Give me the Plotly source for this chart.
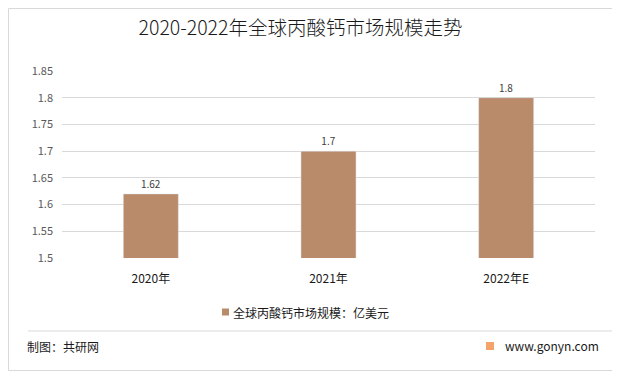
import plotly.graph_objects as go

categories = ["2020年", "2021年", "2022年E"]
values = [1.62, 1.7, 1.8]
value_labels = ["1.62", "1.7", "1.8"]
series_name = "全球丙酸钙市场规模：亿美元"
y_ticks = [1.5, 1.55, 1.6, 1.65, 1.7, 1.75, 1.8, 1.85]
y_tick_labels = ["1.5", "1.55", "1.6", "1.65", "1.7", "1.75", "1.8", "1.85"]

# page body has an 8px default margin; the figure is sized to fill the rest
OFF = 8
W, H = 620 - OFF, 378 - OFF
L, R, T, B = 62 - OFF, 25, 71 - OFF, 120
pw = W - L - R
ph = H - T - B

# convert reference-page pixel coords to paper coords
def px(x):
    return (x - OFF - L) / pw

def py(y):
    return (H - B - (y - OFF)) / ph

FONT = "Noto Sans CJK SC, Microsoft YaHei, sans-serif"
BAR = "#B98B6B"

fig = go.Figure()
fig.add_trace(go.Bar(
    x=categories, y=values, name=series_name,
    marker_color=BAR, width=0.31,
    text=value_labels, textposition="outside",
    textfont=dict(size=10, color="#404040", family=FONT),
    cliponaxis=False, showlegend=False,
))

shapes = [
    dict(type="rect", xref="paper", yref="paper",
         x0=px(8.5), x1=px(612.5), y0=py(370.5), y1=py(8.5),
         line=dict(color="#D9D9D9", width=1), fillcolor="rgba(0,0,0,0)", layer="below"),
    dict(type="line", xref="paper", yref="paper",
         x0=px(28), x1=px(612), y0=py(331), y1=py(331),
         line=dict(color="#D9D9D9", width=1)),
    # legend swatch
    dict(type="rect", xref="paper", yref="paper",
         x0=px(222), x1=px(229), y0=py(315.5), y1=py(308.5),
         line=dict(width=0), fillcolor=BAR),
    # footer logo
    dict(type="rect", xref="paper", yref="paper",
         x0=px(486), x1=px(494), y0=py(350), y1=py(342),
         line=dict(width=0), fillcolor="#F4A46A"),
]

annotations = [
    dict(text=series_name, xref="paper", yref="paper", x=px(231), y=py(312),
         xanchor="left", yanchor="middle", showarrow=False,
         font=dict(size=12, color="#1a1a1a", family=FONT)),
    dict(text="制图：共研网", xref="paper", yref="paper", x=px(25), y=py(346),
         xanchor="left", yanchor="middle", showarrow=False,
         font=dict(size=12, color="#1a1a1a", family=FONT)),
    dict(text="www.gonyn.com", xref="paper", yref="paper", x=px(601), y=py(345),
         xanchor="right", yanchor="middle", showarrow=False,
         font=dict(size=12, color="#1a1a1a", family=FONT)),
]

fig.update_layout(
    width=W, height=H,
    margin=dict(l=L, r=R, t=T, b=B, autoexpand=False),
    paper_bgcolor="white", plot_bgcolor="white",
    font=dict(family=FONT),
    title=dict(text="2020-2022年全球丙酸钙市场规模走势", x=(300.5 - OFF) / W, xanchor="center",
               y=1 - (28 - OFF) / H, yanchor="middle", yref="container",
               font=dict(size=19.5, color="#1a1a1a", family=FONT, weight=300)),
    xaxis=dict(showgrid=False, showline=False, ticks="", ticklabelstandoff=12,
               tickfont=dict(size=12, color="#1a1a1a", family=FONT)),
    yaxis=dict(range=[1.5, 1.85], tickvals=y_ticks, ticktext=y_tick_labels,
               showgrid=True, gridcolor="#D9D9D9", gridwidth=1,
               zeroline=False, showline=False, ticks="", ticklabelstandoff=8,
               tickfont=dict(size=11, color="#595959", family=FONT)),
    showlegend=False,
    shapes=shapes,
    annotations=annotations,
)

fig.write_html("out.html")
